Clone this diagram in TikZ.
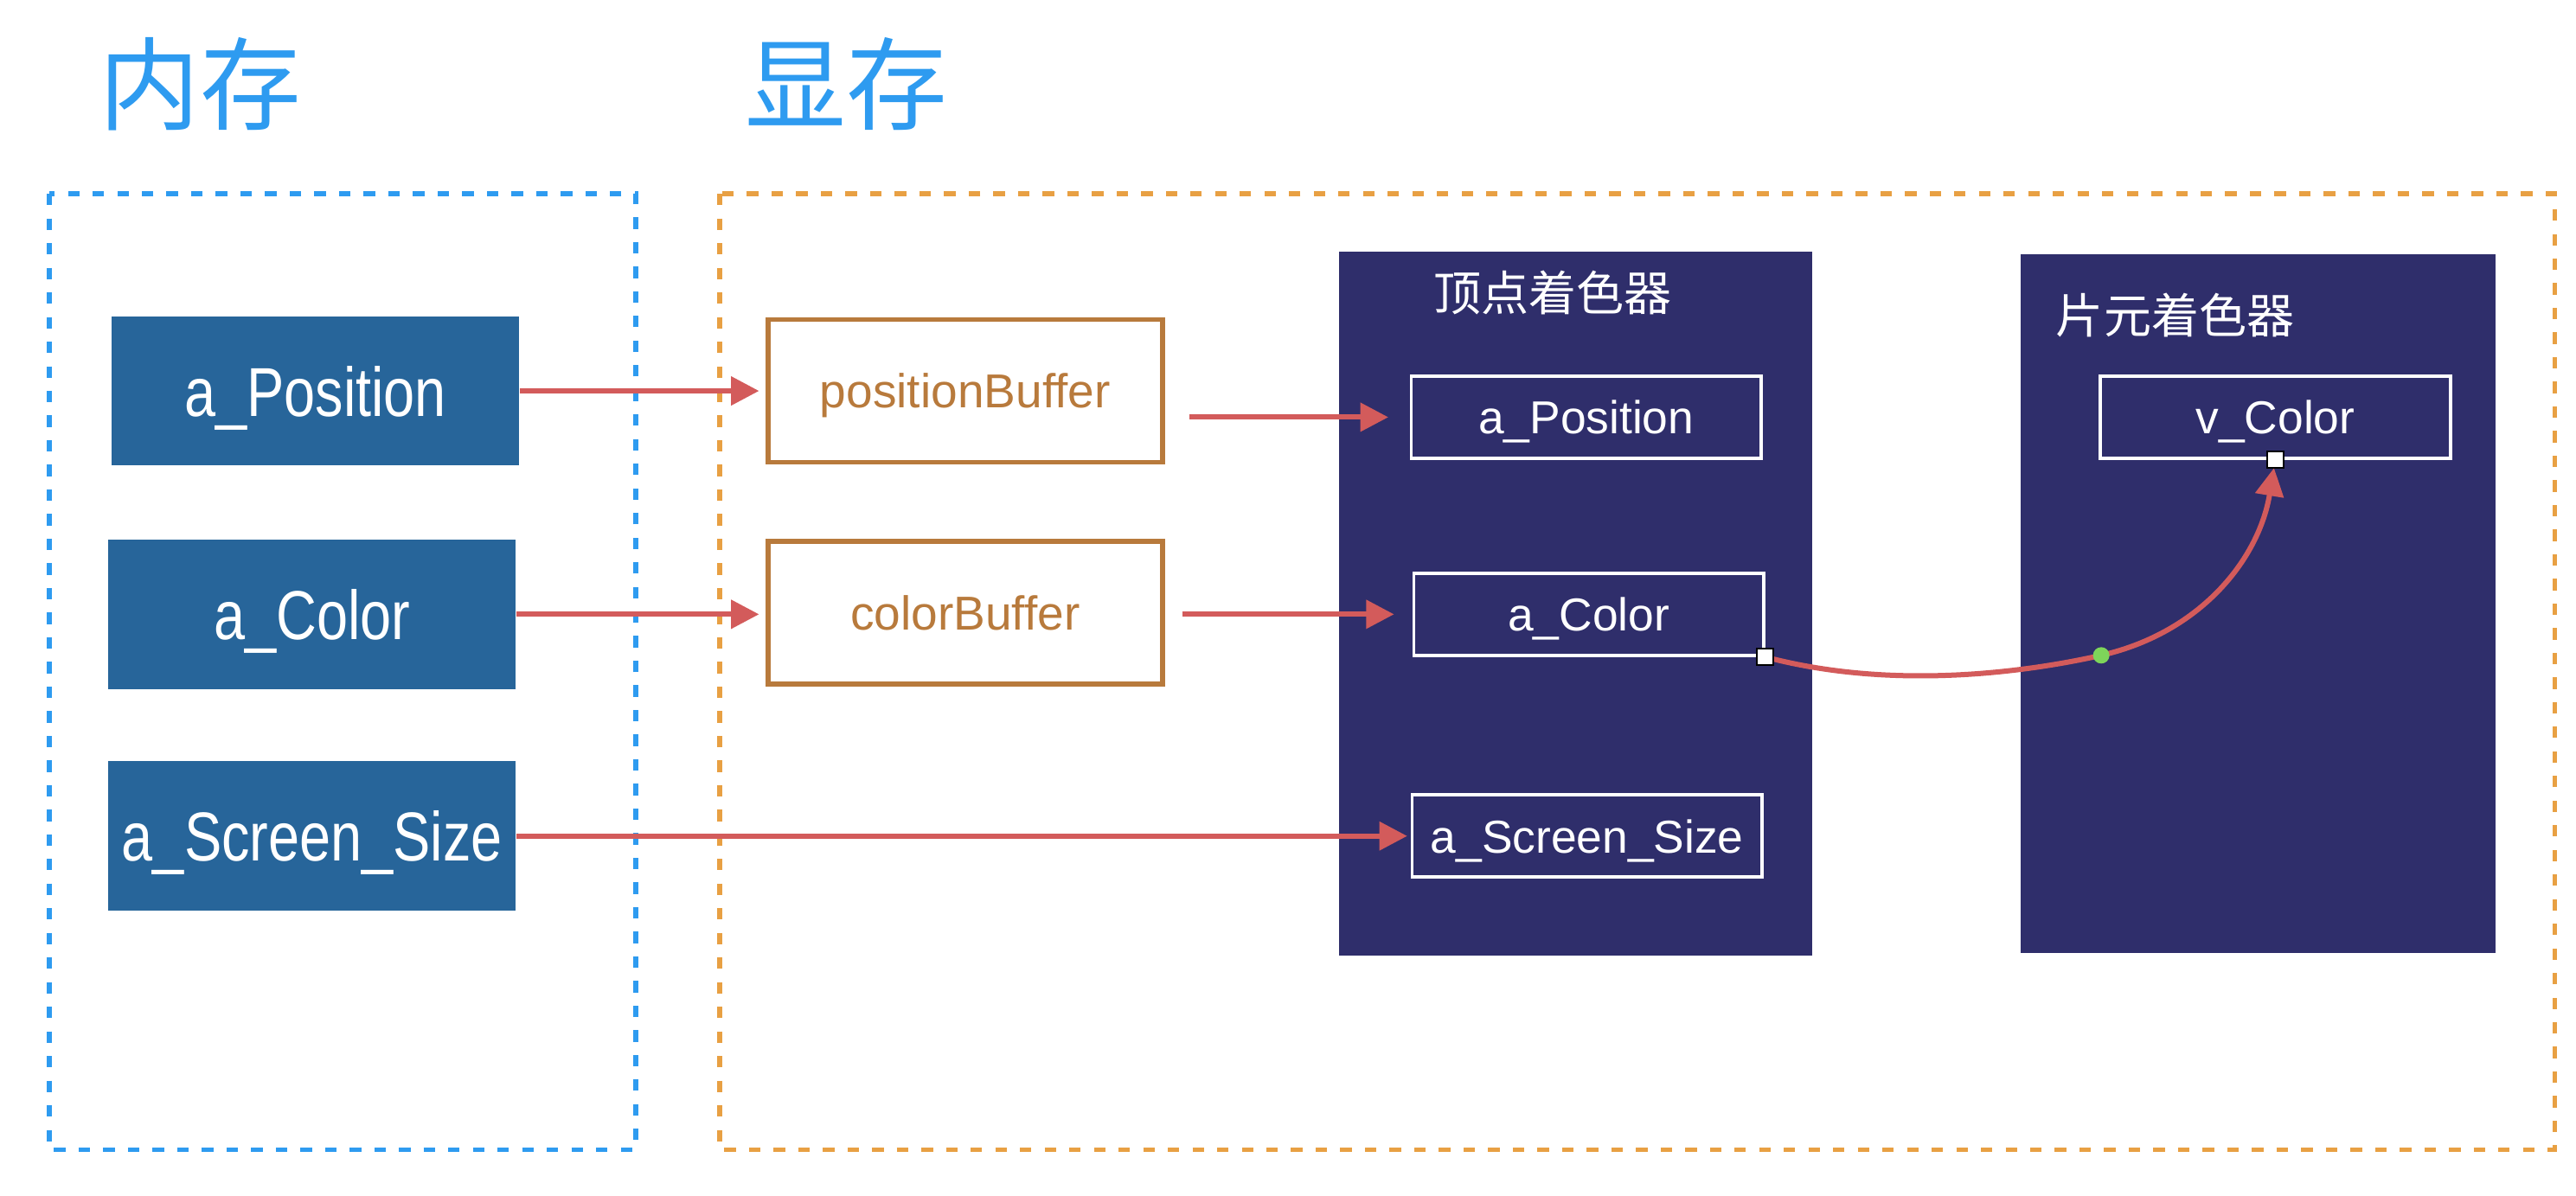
\documentclass[tikz,border=0pt]{standalone}
\usepackage{fontspec}
\setmainfont{Liberation Sans}
\newfontfamily\cjk{Noto Sans CJK SC}
\newfontfamily\attrfont[FakeStretch=0.81]{Liberation Sans}
\usetikzlibrary{arrows.meta}
\definecolor{memblue}{HTML}{2E9BF0}
\definecolor{gpuorange}{HTML}{E8A043}
\definecolor{attrblue}{HTML}{27659A}
\definecolor{bufbrown}{HTML}{B87A3C}
\definecolor{shaderbg}{HTML}{2F2E6B}
\definecolor{flowred}{HTML}{D35B5B}
\definecolor{handlegreen}{HTML}{7ED55A}
\tikzset{
  region/.style={line width=1.7pt, dash pattern=on 0.14cm off 0.16cm},
  heading/.style={text=memblue, font=\cjk\fontsize{35}{40}\selectfont},
  attr/.style={fill=attrblue, text=white, minimum width=4.96cm, minimum height=1.82cm, text depth=0pt, font=\attrfont\fontsize{24}{28}\selectfont},
  buffer/.style={draw=bufbrown, line width=1.7pt, text=bufbrown, minimum width=4.8cm, minimum height=1.74cm, text depth=0pt, font=\fontsize{16.5}{20}\selectfont},
  shader/.style={fill=shaderbg, inner sep=0pt},
  shadertitle/.style={text=white, font=\cjk\fontsize{16.5}{20}\selectfont},
  slot/.style={draw=white, line width=1.1pt, text=white, minimum width=4.26cm, minimum height=1.0cm, text depth=0pt, font=\fontsize{16}{19}\selectfont},
  flow/.style={draw=flowred, line width=1.8pt, -{Triangle[length=0.34cm,width=0.34cm]}},
  handle/.style={draw=black, fill=white, line width=0.5pt, minimum size=0.2cm, inner sep=0pt},
}

\begin{document}
\begin{tikzpicture}[x=0.02cm, y=-0.02cm]
		%%%%% START %%%%%
		\useasboundingbox (0, 0) rectangle (1568, 727.7);
		
		\node[heading] (memtitle) at (122, 51) {内存};
		\node[heading] (gputitle) at (515, 51) {显存};
		
		\draw[region, draw=memblue] (30, 118) rectangle (387, 700);
		\draw[region, draw=gpuorange] (438, 118) rectangle (1555, 700);
		
		\node[attr] (apos) at (192, 238) {a\_Position};
		\node[attr] (acol) at (190, 374) {a\_Color};
		\node[attr] (asize) at (190, 509) {a\_Screen\_Size};
		
		\node[buffer] (posbuf) at (587.5, 238) {positionBuffer};
		\node[buffer] (colbuf) at (587.5, 373) {colorBuffer};
		
		\node[shader, minimum width=5.76cm, minimum height=8.58cm] (vshader) at (959, 367.5) {};
		\node[shader, minimum width=5.78cm, minimum height=8.5cm] (fshader) at (1374.5, 367.5) {};
		\node[shadertitle] (vtitle) at (945, 178) {顶点着色器};
		\node[shadertitle] (ftitle) at (1324, 192) {片元着色器};
		
		\node[slot] (vpos) at (965.5, 254) {a\_Position};
		\node[slot] (vcol) at (967, 374) {a\_Color};
		\node[slot] (vsize) at (966, 509) {a\_Screen\_Size};
		\node[slot] (fcol) at (1385, 254) {v\_Color};
		
		\draw[flow, shorten >=0.08cm] (apos.east) -- (posbuf.west);
		\draw[flow, shorten <=0.3cm, shorten >=0.26cm] (posbuf.east |- vpos.west) -- (vpos.west);
		\draw[flow, shorten >=0.08cm] (acol.east) -- (colbuf.west |- acol.east);
		\draw[flow, shorten <=0.22cm, shorten >=0.22cm] (colbuf.east |- vcol.west) -- (vcol.west);
		\draw[flow, shorten >=0.04cm] (asize.east) -- (vsize.west);
		
		\coordinate (bend) at (1279, 399);
		\draw[flow, shorten >=0.1cm] (vcol.south east) .. controls (1150, 420) and (1230, 410) .. (bend)
			.. controls (1340, 385) and (1375, 340) .. (fcol.south);
		
		\node[handle] (h1) at (vcol.south east) {};
		\node[handle] (h2) at (fcol.south) {};
		\fill[handlegreen] (bend) circle (0.1cm);
		%%%%% END %%%%%
\end{tikzpicture}
\end{document}
